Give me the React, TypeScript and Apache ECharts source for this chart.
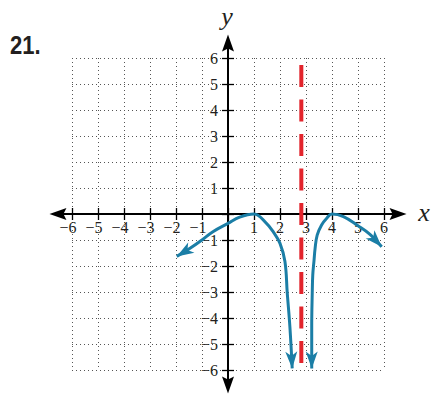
import React, { useEffect, useRef } from 'react';
import * as echarts from 'echarts';

// ---- data ----
const xTicks = [-6, -5, -4, -3, -2, -1, 0, 1, 2, 3, 4, 5, 6];
const xTickLabels = ['−6', '−5', '−4', '−3', '−2', '−1', '', '1', '2', '3', '4', '5', '6'];
const yTicks = [-6, -5, -4, -3, -2, -1, 0, 1, 2, 3, 4, 5, 6];
const yTickLabels = ['−6', '−5', '−4', '−3', '−2', '−1', '', '1', '2', '3', '4', '5', '6'];

const leftBranchX = [-1.97, -1.46, -1.0, -0.58, 0, 0.45, 1.0, 1.47, 1.73, 2.0, 2.19, 2.28, 2.38, 2.47];
const leftBranchY = [-1.63, -1.32, -1.0, -0.68, -0.36, -0.12, 0, -0.35, -0.67, -1.13, -1.83, -3.05, -4.33, -5.94];

const rightBranchX = [3.22, 3.22, 3.24, 3.26, 3.31, 3.35, 3.43, 3.6, 3.79, 4.0, 4.44, 5.0, 5.46, 5.91];
const rightBranchY = [-5.94, -4.33, -3.05, -2.35, -1.77, -1.32, -0.81, -0.42, -0.17, 0, -0.1, -0.45, -0.78, -1.26];

const asymptoteX = 2.82;
const asymptoteY = [5.73, -5.81];

const BLUE = '#1b7ea6';
const RED = '#e2242c';
const INK = '#231f20';

const curveArrow = 'path://M6,0L12,17L6,12.5L0,17Z';
const axisArrow = 'path://M6,0L12,17L6,14L0,17Z';
const ARROW_LEN = 17;
const SERIF = 'Liberation Serif';
const MINUS_SPACER = '\u2002';

function arrowAt(xs: number[], ys: number[], tip: number, prev: number) {
  const dx = xs[tip] - xs[prev];
  const dy = ys[tip] - ys[prev];
  const th = Math.atan2(dy, dx);
  return {
    value: [xs[tip], ys[tip]],
    symbolRotate: (th * 180) / Math.PI - 90,
    symbolOffset: [-(ARROW_LEN / 2) * Math.cos(th), (ARROW_LEN / 2) * Math.sin(th)],
  };
}

function labelFor(ticks: number[], labels: string[], v: number) {
  const i = ticks.findIndex((t) => Math.abs(t - v) < 1e-6);
  return i >= 0 ? labels[i] : '';
}

export default function App() {
  const ref = useRef<HTMLDivElement>(null);
  useEffect(() => {
    document.body.style.margin = '0';
    if (!ref.current) return;
    const chart = echarts.init(ref.current, undefined, { renderer: 'svg' });

    const unit = 26;
    const ox = 228;
    const oy = 214;
    const half = 6 * unit;
    const extX = 6.54;
    const extY = 6.58;
    const tickHalf = 6;

    const tickStyle = { color: '#000', width: 1.3 };

    const option: any = {
      animation: false,
      grid: [
        { left: ox - half, top: oy - half, width: 2 * half, height: 2 * half },
        { left: ox - extX * unit, top: oy - extY * unit, width: 2 * extX * unit, height: 2 * extY * unit },
      ],
      xAxis: [
        {
          gridIndex: 0,
          type: 'value',
          position: 'bottom',
          offset: -(half + tickHalf),
          min: -6,
          max: 6,
          interval: 1,
          axisLine: { show: false, onZero: false },
          axisTick: { show: true, inside: false, length: 2 * tickHalf, lineStyle: tickStyle },
          axisLabel: {
            show: true,
            color: INK,
            fontFamily: SERIF,
            fontSize: 16,
            margin: 5 + tickHalf,
            hideOverlap: false,
            formatter: (v: number) => {
              const s = labelFor(xTicks, xTickLabels, v);
              if (!s) return '';
              return v < 0 ? s + MINUS_SPACER : s;
            },
          },
          splitLine: { show: true, lineStyle: { color: '#555', width: 1, type: [1, 3] } },
        },
        {
          gridIndex: 1,
          type: 'value',
          position: 'bottom',
          offset: -extY * unit,
          min: -extX,
          max: extX,
          axisLine: {
            show: true,
            onZero: false,
            symbol: [axisArrow, axisArrow],
            symbolSize: [12, ARROW_LEN],
            lineStyle: { color: '#000', width: 2 },
          },
          axisTick: { show: false },
          axisLabel: { show: false },
          splitLine: { show: false },
        },
      ],
      yAxis: [
        {
          gridIndex: 0,
          type: 'value',
          position: 'left',
          offset: -(half + tickHalf),
          min: -6,
          max: 6,
          interval: 1,
          axisLine: { show: false, onZero: false },
          axisTick: { show: true, inside: false, length: 2 * tickHalf, lineStyle: tickStyle },
          axisLabel: {
            show: true,
            color: INK,
            fontFamily: SERIF,
            fontSize: 16,
            margin: 10 + tickHalf,
            formatter: (v: number) => labelFor(yTicks, yTickLabels, v),
          },
          splitLine: { show: true, lineStyle: { color: '#555', width: 1, type: [1, 3] } },
        },
        {
          gridIndex: 1,
          type: 'value',
          position: 'left',
          offset: -extX * unit,
          min: -extY,
          max: extY,
          axisLine: {
            show: true,
            onZero: false,
            symbol: [axisArrow, axisArrow],
            symbolSize: [12, ARROW_LEN],
            lineStyle: { color: '#000', width: 2 },
          },
          axisTick: { show: false },
          axisLabel: { show: false },
          splitLine: { show: false },
        },
      ],
      series: [
        {
          type: 'line',
          xAxisIndex: 0,
          yAxisIndex: 0,
          data: asymptoteY.map((y) => [asymptoteX, y]),
          showSymbol: false,
          lineStyle: { color: RED, width: 4, type: [22, 12.5] },
          z: 3,
        },
        {
          type: 'line',
          xAxisIndex: 0,
          yAxisIndex: 0,
          data: leftBranchX.map((x, i) => [x, leftBranchY[i]]),
          smooth: 0.4,
          showSymbol: false,
          lineStyle: { color: BLUE, width: 3 },
          z: 4,
        },
        {
          type: 'line',
          xAxisIndex: 0,
          yAxisIndex: 0,
          data: rightBranchX.map((x, i) => [x, rightBranchY[i]]),
          smooth: 0.4,
          showSymbol: false,
          lineStyle: { color: BLUE, width: 3 },
          z: 4,
        },
        {
          type: 'scatter',
          xAxisIndex: 0,
          yAxisIndex: 0,
          symbol: curveArrow,
          symbolSize: [12, ARROW_LEN],
          itemStyle: { color: BLUE, opacity: 1 },
          z: 5,
          data: [
            arrowAt(leftBranchX, leftBranchY, 0, 1),
            arrowAt(leftBranchX, leftBranchY, leftBranchX.length - 1, leftBranchX.length - 2),
            arrowAt(rightBranchX, rightBranchY, 0, 1),
            arrowAt(rightBranchX, rightBranchY, rightBranchX.length - 1, rightBranchX.length - 2),
          ],
        },
      ],
      graphic: [
        {
          type: 'text',
          x: 10,
          y: 46,
          scaleX: 0.88,
          style: {
            text: '21.',
            font: 'bold 25px "Liberation Sans", Arial, sans-serif',
            fill: INK,
            verticalAlign: 'middle',
            align: 'left',
          },
        },
        {
          type: 'text',
          x: 227,
          y: 16,
          style: {
            text: 'y',
            font: 'italic 26px "Liberation Serif", serif',
            fill: INK,
            verticalAlign: 'middle',
            align: 'center',
          },
        },
        {
          type: 'text',
          x: 424,
          y: 212,
          style: {
            text: 'x',
            font: 'italic 26px "Liberation Serif", serif',
            fill: INK,
            verticalAlign: 'middle',
            align: 'center',
          },
        },
      ],
    };

    chart.setOption(option);
    return () => chart.dispose();
  }, []);

  return <div ref={ref} style={{ width: 431, height: 395 }} />;
}
